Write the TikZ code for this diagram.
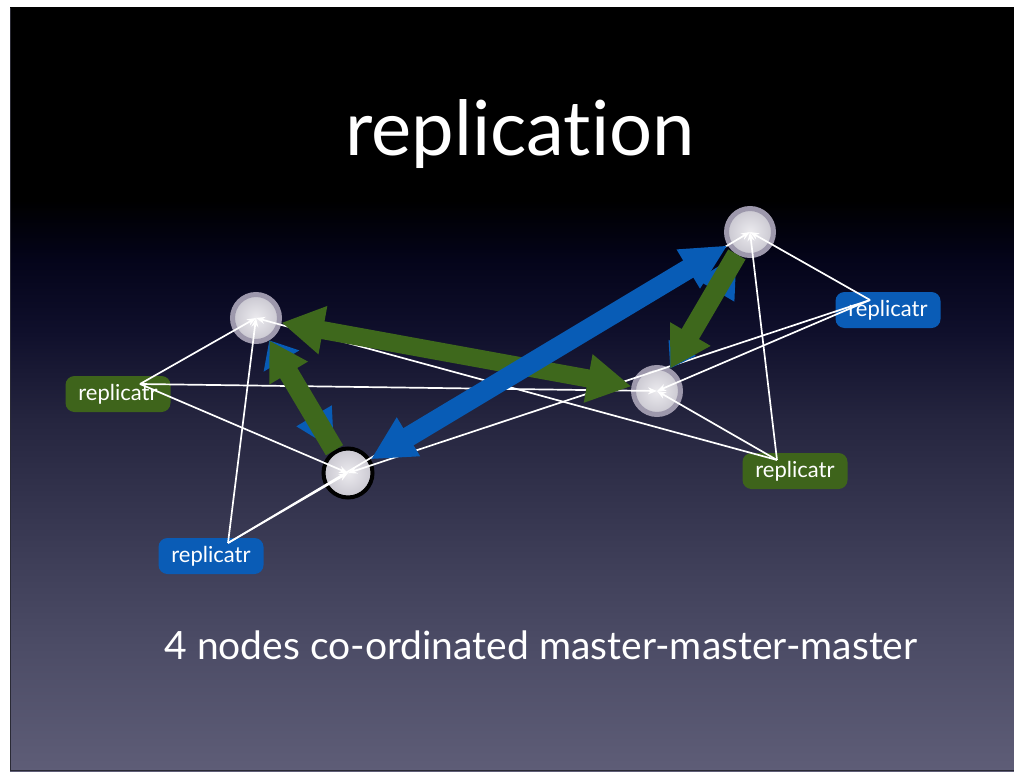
\documentclass[tikz,border=0pt]{standalone}
\usepackage{fontspec}
\setmainfont{Lato}[Ligatures=NoCommon]
\usetikzlibrary{arrows.meta}
\definecolor{bg1}{HTML}{5E5D77}
\definecolor{bg2}{HTML}{4B4B65}
\definecolor{bg3}{HTML}{3E3E58}
\definecolor{bg4}{HTML}{25253F}
\definecolor{bg5}{HTML}{0F0F2B}
\definecolor{bg6}{HTML}{04041A}
\definecolor{framec}{HTML}{2A2A35}
\definecolor{ringc}{HTML}{9D98AC}
\definecolor{nodeg}{HTML}{C9C7D0}
\definecolor{nodei}{HTML}{ECEBEF}
\definecolor{grn}{RGB}{62,104,28}
\definecolor{blu}{RGB}{8,92,182}
\definecolor{boxg}{RGB}{62,100,27}
\definecolor{boxb}{RGB}{10,92,182}
\pgfdeclareverticalshading{slidebg}{100bp}{color(0bp)=(bg1); color(25bp)=(bg1); color(33.6bp)=(bg2); color(38.8bp)=(bg3); color(48bp)=(bg4); color(53.9bp)=(bg5); color(58.5bp)=(bg6); color(62.4bp)=(black); color(100bp)=(black)}
\begin{document}
\begin{tikzpicture}[x=1pt,y=-1pt,
  mnode/.style={circle, minimum size=47pt, inner sep=0pt, draw=ringc, line width=5pt, inner color=nodei, outer color=nodeg},
  bnode/.style={circle, minimum size=49pt, inner sep=0pt, draw=black, line width=4pt, inner color=nodei, outer color=nodeg},
  rbox/.style={rounded corners=9pt, minimum width=105pt, minimum height=36pt, inner sep=0pt, text=white, font=\fontsize{22}{22}\selectfont},
  wline/.style={draw=white, line width=1.7pt, -{Stealth[length=9pt,width=7pt]}},
  titletext/.style={text=white, anchor=base, inner sep=0pt}
]
\useasboundingbox (0,0) rectangle (1014,773);
\fill[white] (0,0) rectangle (1014,773);
\shade[shading=slidebg] (10,8) rectangle (1014,771);
\draw[line width=1.2pt, framec] (10.5,8) -- (10.5,770.5) -- (1014,770.5);

% title and caption
\node[titletext, font=\fontsize{76}{76}\selectfont] (title) at (520,155) {replication};
\node[titletext, font=\fontsize{39}{39}\selectfont] (caption) at (541,659) {4 nodes co-ordinated master-master-master};

% replicatr boxes
\node[rbox, fill=boxg] (R1) at (118,394) {replicatr};
\node[rbox, fill=boxb] (R2) at (211,556) {replicatr};
\node[rbox, fill=boxb] (R3) at (888,310) {replicatr};
\node[rbox, fill=boxg] (R4) at (795,471) {replicatr};
\coordinate (h1) at (140,384);
\coordinate (h2) at (228,543);
\coordinate (h3) at (870,300);
\coordinate (h4) at (777,460);

% database nodes
\node[mnode] (A) at (256,318) {};
\node[bnode] (B) at (348,473) {};
\node[mnode] (C) at (657,391) {};
\node[mnode] (D) at (750,232) {};

% replication lines
\draw[wline] (h1) -- (A.center);
\draw[wline] (h1) -- (B.center);
\draw[wline] (h1) -- (C.center);
\draw[wline] (h2) -- (A.center);
\draw[wline] (h2) -- (B.center);
\draw[wline] (h2) -- (D.center);
\draw[wline] (h3) -- (B.center);
\draw[wline] (h3) -- (C.center);
\draw[wline] (h3) -- (D.center);
\draw[wline] (h4) -- (A.center);
\draw[wline] (h4) -- (C.center);
\draw[wline] (h4) -- (D.center);

% thick arrows
\draw[grn, line width=18pt, {Triangle[length=42pt,width=46pt]}-{Triangle[length=44pt,width=46pt]}] (A) -- (C);
\draw[blu, line width=12pt, {Triangle[length=24pt,width=40pt]}-{Triangle[length=40pt,width=38pt]}] (A) -- (B);
\draw[blu, line width=12pt, {Triangle[length=24pt,width=30pt]}-{Triangle[length=42pt,width=40pt]}] (C) -- (D);
\draw[blu, line width=20pt, {Triangle[length=44pt,width=42pt]}-{Triangle[length=46pt,width=42pt]}] (B) -- (D);
\draw[grn, line width=20pt, -{Triangle[length=38pt,width=42pt]}] (B) -- (A);
\draw[grn, line width=20pt, -{Triangle[length=40pt,width=44pt]}] (D) -- (C);
\end{tikzpicture}
\end{document}
